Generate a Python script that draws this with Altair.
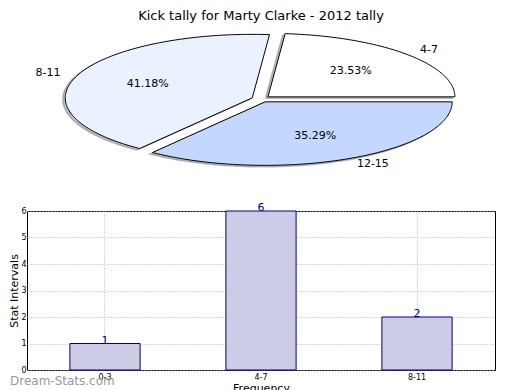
import math
import altair as alt
import pandas as pd

# ---------------- data ----------------
title_text = "Kick tally for Marty Clarke - 2012 tally"
pie_labels = ["4-7", "8-11", "12-15"]
pie_values = [23.53, 41.18, 35.29]
pie_colors = ["#FFFFFF", "#EBF2FF", "#C4D8FF"]

bar_categories = ["0-3", "4-7", "8-11"]
bar_values = [1, 6, 2]

# ---------------- pie geometry (ellipse, exploded, like matplotlib) ----------------
CX, CY, RX, RY, EXPLODE = 259.0, 99.0, 187.0, 63.5, 0.05
SHADOW_DX, SHADOW_DY = -2.5, 1.5

poly_rows, lab_rows = [], []
total = sum(pie_values)
start = 0.0
for k, (lab, val) in enumerate(zip(pie_labels, pie_values)):
    span = 360.0 * val / total
    t0, t1 = start, start + span
    mid = math.radians((t0 + t1) / 2)
    ox = EXPLODE * math.cos(mid) * RX
    oy = -EXPLODE * math.sin(mid) * RY
    cx, cy = CX + ox, CY + oy
    pts = [(cx, cy)]
    n = max(int(span), 2)
    for j in range(n + 1):
        t = math.radians(t0 + span * j / n)
        pts.append((cx + RX * math.cos(t), cy - RY * math.sin(t)))
    pts.append((cx, cy))
    for i, (px, py) in enumerate(pts):
        poly_rows.append({"slice": lab, "i": i, "x": px, "y": py,
                          "sx": px + SHADOW_DX, "sy": py + SHADOW_DY})
    cm, sm = math.cos(mid), math.sin(mid)
    lab_rows.append({"slice": lab,
                     "lx": cx + 1.1 * cm * RX, "ly": cy - 1.1 * sm * RY,
                     "align": "left" if cm > 0 else "right",
                     "px": cx + 0.6 * cm * RX, "py": cy - 0.6 * sm * RY,
                     "pct": f"{val:.2f}%"})
    start = t1

poly = pd.DataFrame(poly_rows)
labs = pd.DataFrame(lab_rows)

PW, PH = 468, 185
xs = alt.Scale(domain=[25, 25 + PW], nice=False, zero=False)
ys = alt.Scale(domain=[8, 8 + PH], nice=False, zero=False, reverse=True)

base_poly = alt.Chart(poly)
shadow = base_poly.mark_line(fill="#808080", fillOpacity=0.5, stroke="#808080",
                             strokeOpacity=0.5, strokeWidth=1.5).encode(
    x=alt.X("sx:Q", scale=xs, axis=None),
    y=alt.Y("sy:Q", scale=ys, axis=None),
    detail="slice:N",
    order="i:Q",
)
slices = base_poly.mark_line(stroke="black", strokeWidth=1, strokeJoin="miter").encode(
    x=alt.X("x:Q", scale=xs, axis=None),
    y=alt.Y("y:Q", scale=ys, axis=None),
    detail="slice:N",
    order="i:Q",
    fill=alt.Fill("slice:N", scale=alt.Scale(domain=pie_labels, range=pie_colors), legend=None),
)
lab_left = alt.Chart(labs).transform_filter("datum.align == 'left'").mark_text(
    align="left", baseline="middle", fontSize=11, font="DejaVu Sans", color="black").encode(
    x=alt.X("lx:Q", scale=xs, axis=None), y=alt.Y("ly:Q", scale=ys, axis=None), text="slice:N")
lab_right = alt.Chart(labs).transform_filter("datum.align == 'right'").mark_text(
    align="right", baseline="middle", fontSize=11, font="DejaVu Sans", color="black").encode(
    x=alt.X("lx:Q", scale=xs, axis=None), y=alt.Y("ly:Q", scale=ys, axis=None), text="slice:N")
pct = alt.Chart(labs).mark_text(
    align="center", baseline="middle", fontSize=11, font="DejaVu Sans", color="black").encode(
    x=alt.X("px:Q", scale=xs, axis=None), y=alt.Y("py:Q", scale=ys, axis=None), text="pct:N")
ttl = alt.Chart(pd.DataFrame({"t": [title_text], "x": [259.0], "y": [16.0]})).mark_text(
    align="center", baseline="middle", fontSize=13, font="DejaVu Sans", color="black").encode(
    x=alt.X("x:Q", scale=xs, axis=None), y=alt.Y("y:Q", scale=ys, axis=None), text="t:N")

pie = alt.layer(shadow, slices, lab_left, lab_right, pct, ttl).properties(width=PW, height=PH)

# ---------------- bar chart ----------------
bars_df = pd.DataFrame({"cat": bar_categories, "val": bar_values})
bx = alt.X("cat:N", sort=bar_categories, title="Frequency",
           scale=alt.Scale(paddingInner=0.55, paddingOuter=0.275),
           axis=alt.Axis(labelAngle=0, labelFontSize=8, labelFont="DejaVu Sans", labelColor="black",
                         titleFontSize=11, titleFont="DejaVu Sans", titleFontWeight="normal",
                         titlePadding=1, labelPadding=3, tickSize=0, domain=False,
                         grid=True, gridDash=[1, 2], gridColor="#b0b0b0", gridWidth=1,
                         bandPosition=0.5))
by = alt.Y("val:Q", title="Stat Intervals", scale=alt.Scale(domain=[0, 6], nice=False),
           axis=alt.Axis(values=[0, 1, 2, 3, 4, 5, 6], labelFontSize=8, labelFont="DejaVu Sans",
                         labelColor="black", titleFontSize=11, titleFont="DejaVu Sans",
                         titleFontWeight="normal", titlePadding=1, labelPadding=1,
                         tickSize=0, domain=False,
                         grid=True, gridDash=[1, 2], gridColor="#b0b0b0", gridWidth=1))
bar_base = alt.Chart(bars_df)
bars = bar_base.mark_bar(fill="#CCCCE6", stroke="#000080", strokeWidth=1).encode(x=bx, y=by)
bar_text = bar_base.mark_text(baseline="bottom", dy=2, fontSize=11, font="DejaVu Sans",
                              color="#000080").encode(x=bx, y=by, text="val:Q")
mark_wm = alt.Chart(pd.DataFrame({"w": ["Dream-Stats.com"]})).mark_text(
    align="left", baseline="middle", fontSize=12, font="DejaVu Sans", color="#999999").encode(
    x=alt.value(-17), y=alt.value(170), text="w:N")
bar_chart = alt.layer(bars, bar_text, mark_wm).properties(
    width=468, height=159, view=alt.ViewBackground(stroke="black", strokeWidth=1))

chart = alt.vconcat(pie, bar_chart, spacing=8).configure_view(stroke=None).properties(padding=0)

chart.save("out.html", embed_options={"renderer": "svg", "actions": False})
